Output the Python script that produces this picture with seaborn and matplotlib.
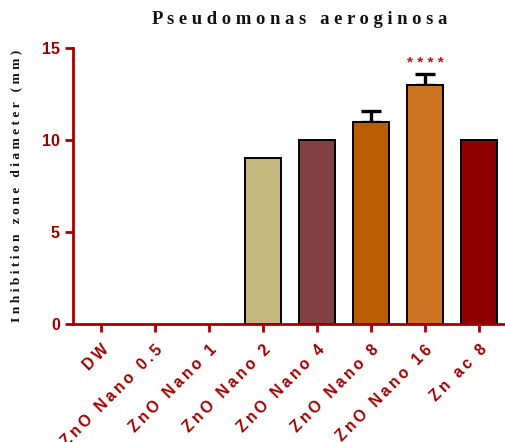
import matplotlib
matplotlib.use("Agg")
import matplotlib.pyplot as plt
import seaborn as sns
import pandas as pd

# Inhibition zone measurements against Pseudomonas aeroginosa
categories = ["DW", "ZnO Nano 0.5", "ZnO Nano 1", "ZnO Nano 2", "ZnO Nano 4",
              "ZnO Nano 8", "ZnO Nano 16", "Zn ac 8"]
means = [0, 0, 0, 9, 10, 11, 13, 10]
errors = [0, 0, 0, 0, 0, 0.6, 0.6, 0]
bar_colors = ["#FFFFFF", "#FFFFFF", "#FFFFFF", "#C4B67C", "#834042",
              "#BA5C00", "#CC7421", "#8F0000"]
significance = ["", "", "", "", "", "", "****", ""]
yticks = [0, 5, 10, 15]
title = "Pseudomonas aeroginosa"
ylabel = "Inhibition zone diameter (mm)"

axis_red = "#A50000"
label_red = "#A00000"


def tracked(s, gap=" "):
    """Wide letter tracking, Prism style."""
    return gap.join(s)


sns.set_theme(style="white")
plt.rcParams["font.family"] = ["Liberation Sans", "DejaVu Sans"]

df = pd.DataFrame({"group": categories, "diameter": means})

fig = plt.figure(figsize=(5.06, 4.42), dpi=100)
ax = fig.add_axes([0.1443, 0.267, 0.8557, 0.6244])

sns.barplot(data=df, x="group", y="diameter", hue="group",
            palette=dict(zip(categories, bar_colors)), order=categories,
            width=0.67, saturation=1, edgecolor="black", linewidth=1.4,
            legend=False, errorbar=None, ax=ax, zorder=2)

# empty groups carry no visible bar
for patch, val in zip(ax.patches, means):
    if val == 0:
        patch.set_linewidth(0)

# upper-only error bars
xs = list(range(len(categories)))
for x, m, e in zip(xs, means, errors):
    if e > 0:
        ax.errorbar(x, m, yerr=[[0], [e]], fmt="none", ecolor="black",
                    elinewidth=2.4, capsize=7, capthick=2.4, zorder=1)

for x, m, e, s in zip(xs, means, errors, significance):
    if s:
        ax.text(x, m + e + 0.2, tracked(s), ha="center", va="bottom",
                color="#C41414", fontsize=11, fontweight="bold")

ax.set_xlim(-0.52, 7.5)
ax.set_ylim(0, 15)
ax.set_yticks(yticks)
ax.set_yticklabels([str(t) for t in yticks], fontsize=11.5, fontweight="bold",
                   color=label_red)
ax.set_xticks(xs)
ax.set_xticklabels([tracked(c, "\u2009") for c in categories], rotation=45,
                   ha="right", rotation_mode="anchor", fontsize=11.3,
                   fontweight="bold", color=label_red)

for side in ["top", "right"]:
    ax.spines[side].set_visible(False)
for side in ["left", "bottom"]:
    ax.spines[side].set_color(axis_red)
    ax.spines[side].set_linewidth(2)
    ax.spines[side].set_zorder(3)

ax.tick_params(axis="both", which="major", direction="out", length=6, width=2,
               color=axis_red, left=True, bottom=True)
ax.tick_params(axis="x", pad=7)
ax.tick_params(axis="y", pad=3.5)

ax.set_xlabel("")
ax.set_ylabel(tracked(ylabel), fontsize=9.7, fontweight="bold",
              family=["Liberation Serif"], color="#111111", labelpad=14)

fig.text(300 / 506, 1 - 20 / 442, tracked(title),
         ha="center", va="center", fontsize=13.4, fontweight="bold",
         family=["Liberation Serif"], color="#111111")

fig.savefig("out.png", dpi=100)
